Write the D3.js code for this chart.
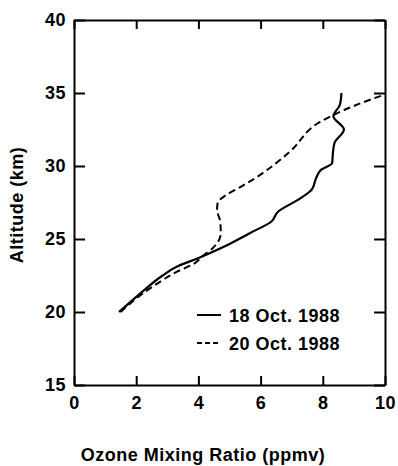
<!DOCTYPE html>
<html>
<head>
<meta charset="utf-8">
<script src="https://cdn.jsdelivr.net/npm/d3@7"></script>
<style>
  body { margin: 0; background: #fff; }
  text { font-family: "Liberation Sans", Arial, sans-serif; font-weight: bold; fill: #000; letter-spacing: 0.5px; }
</style>
</head>
<body>
<script>
const width = 398;
const height = 466;

// ozone profiles [mixing ratio ppmv, altitude km]
const oct18 = [[1.45,20],[2.2,21.4],[2.85,22.5],[3.3,23.1],[3.95,23.65],[4.8,24.45],[5.65,25.4],[6.35,26.2],[6.55,26.85],[7.25,27.75],[7.65,28.4],[7.8,29.25],[7.95,29.75],[8.3,30.2],[8.33,31.0],[8.38,31.6],[8.68,32.5],[8.34,33.4],[8.55,34.2],[8.6,35.0]];
const oct20 = [[1.5,20],[2.2,21.25],[2.9,22.25],[3.3,22.75],[3.85,23.3],[4.15,23.85],[4.45,24.35],[4.72,25.4],[4.7,26.2],[4.6,27.0],[4.62,27.5],[4.85,27.95],[5.3,28.5],[5.7,29.0],[6.95,31.0],[7.9,33.0],[8.35,33.5],[9.1,34.2],[10,34.9]];

const xTicks = [0, 2, 4, 6, 8, 10];
const yTicks = [15, 20, 25, 30, 35, 40];
const legendLabels = ['18 Oct. 1988', '20 Oct. 1988'];

const margin = {left: 74, top: 20, right: 13, bottom: 81};

const svg = d3.select('body').append('svg')
    .attr('width', width)
    .attr('height', height);

const x = d3.scaleLinear().domain([0, 10]).range([margin.left, width - margin.right]);
const y = d3.scaleLinear().domain([15, 40]).range([height - margin.bottom, margin.top]);

// axes with inward ticks
svg.append('g')
    .attr('transform', `translate(0,${y(15)})`)
    .call(d3.axisBottom(x).tickValues(xTicks).tickSize(-9).tickSizeOuter(0).tickPadding(11))
    .call(g => g.selectAll('text').style('font-size', '18px'));

svg.append('g')
    .attr('transform', `translate(${x(0)},0)`)
    .call(d3.axisLeft(y).tickValues(yTicks).tickSize(-11).tickSizeOuter(0).tickPadding(8))
    .call(g => g.selectAll('text').style('font-size', '18px'));

svg.append('g')
    .attr('transform', `translate(0,${y(40)})`)
    .call(d3.axisTop(x).tickValues(xTicks).tickSize(-9).tickSizeOuter(0).tickFormat(''));

svg.append('g')
    .attr('transform', `translate(${x(10)},0)`)
    .call(d3.axisRight(y).tickValues(yTicks).tickSize(-11).tickSizeOuter(0).tickFormat(''));

svg.selectAll('.domain').attr('stroke-width', 2);
svg.selectAll('.tick line').attr('stroke-width', 2);

const line = d3.line()
    .x(d => x(d[0]))
    .y(d => y(d[1]))
    .curve(d3.curveMonotoneY);

svg.append('defs').append('clipPath').attr('id', 'clip')
    .append('rect')
    .attr('x', x(0)).attr('y', y(40))
    .attr('width', x(10) - x(0)).attr('height', y(15) - y(40));

svg.append('path')
    .datum(oct20)
    .attr('clip-path', 'url(#clip)')
    .attr('d', line)
    .attr('fill', 'none')
    .attr('stroke', '#000')
    .attr('stroke-width', 2)
    .attr('stroke-dasharray', '7,4');

svg.append('path')
    .datum(oct18)
    .attr('d', line)
    .attr('fill', 'none')
    .attr('stroke', '#000')
    .attr('stroke-width', 2.2);

// legend
const legend = svg.append('g');
legendLabels.forEach((label, i) => {
    const ly = 315 + i * 28;
    legend.append('line')
        .attr('x1', 197).attr('x2', 221)
        .attr('y1', ly).attr('y2', ly)
        .attr('stroke', '#000')
        .attr('stroke-width', 2)
        .attr('stroke-dasharray', i === 0 ? null : '5,3');
    legend.append('text')
        .attr('x', 229).attr('y', ly + 7)
        .style('font-size', '18px')
        .text(label);
});

// axis titles
svg.append('text')
    .attr('x', 203).attr('y', 461)
    .attr('text-anchor', 'middle')
    .style('font-size', '18px')
    .text('Ozone Mixing Ratio (ppmv)');

svg.append('text')
    .attr('transform', 'translate(23,205) rotate(-90)')
    .attr('text-anchor', 'middle')
    .style('font-size', '18px')
    .text('Altitude (km)');
</script>
</body>
</html>
